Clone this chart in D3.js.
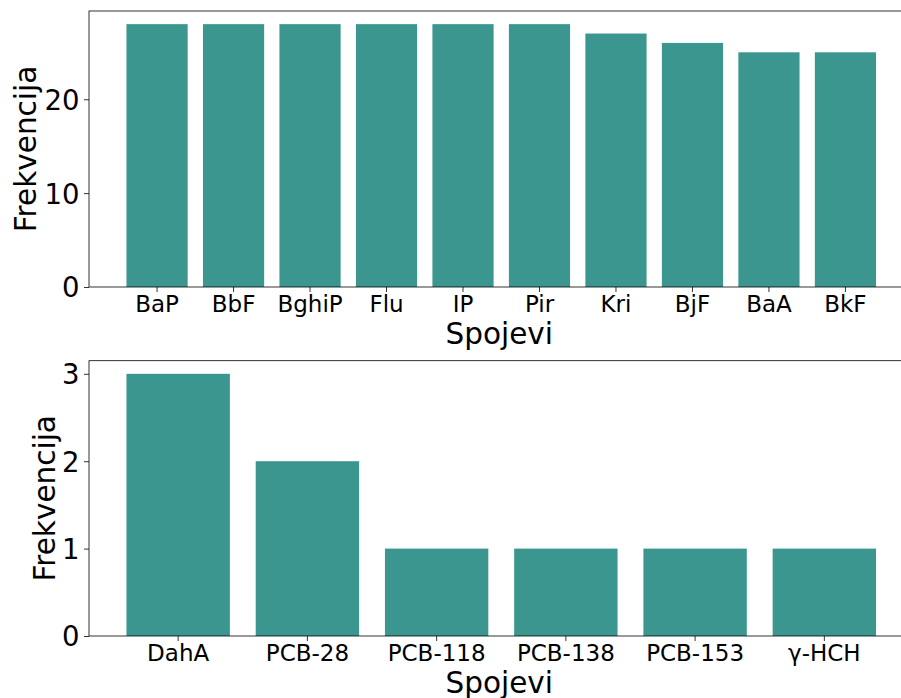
<!DOCTYPE html>
<html>
<head>
<meta charset="utf-8">
<script src="https://cdn.jsdelivr.net/npm/d3@7"></script>
<style>
  body { margin: 0; background: #fff; }
  svg { display: block; font-family: "DejaVu Sans", sans-serif; }
</style>
</head>
<body>
<svg id="plot" width="901" height="698"></svg>
<script>
// data
const topNames = ["BaP", "BbF", "BghiP", "Flu", "IP", "Pir", "Kri", "BjF", "BaA", "BkF"];
const topCounts = [28, 28, 28, 28, 28, 28, 27, 26, 25, 25];
const topTicks = [0, 10, 20];

const botNames = ["DahA", "PCB-28", "PCB-118", "PCB-138", "PCB-153", "γ-HCH"];
const botCounts = [3, 2, 1, 1, 1, 1];
const botTicks = [0, 1, 2, 3];

const barColor = "#3a968f";
const svg = d3.select("#plot");

// left/right of both axes boxes (right side runs past the window, like the original)
const axLeft = 89, axRight = 913.5;

function drawPanel(names, counts, ticks, top, bottom, yLabelX) {
  const n = names.length;
  const x = d3.scaleBand()
    .domain(names)
    .range([axLeft, axRight])
    .paddingInner(0.2)
    .paddingOuter(0.05 * (n - 0.2))
    .align(0.5);
  const yMax = d3.max(counts) * 1.05;
  const y = d3.scaleLinear().domain([0, yMax]).range([bottom, top]);

  const g = svg.append("g");

  g.selectAll("rect.bar")
    .data(names)
    .enter().append("rect")
    .attr("class", "bar")
    .attr("x", d => x(d))
    .attr("width", x.bandwidth())
    .attr("y", (d, i) => y(counts[i]))
    .attr("height", (d, i) => y(0) - y(counts[i]))
    .style("fill", barColor);

  // spines
  g.append("rect")
    .attr("x", axLeft).attr("y", top)
    .attr("width", axRight - axLeft).attr("height", bottom - top)
    .style("fill", "none").style("stroke", "#000").style("stroke-width", 0.8);

  // x axis
  const xAxis = d3.axisBottom(x).tickSize(5).tickSizeOuter(0);
  g.append("g")
    .attr("transform", "translate(0," + bottom + ")")
    .call(xAxis)
    .call(a => a.select(".domain").remove())
    .call(a => a.selectAll(".tick line").attr("stroke", "#000").attr("stroke-width", 0.8))
    .call(a => a.selectAll(".tick text")
      .attr("y", 24.5).attr("dy", 0)
      .style("font-family", "DejaVu Sans")
      .style("font-size", "23px").style("fill", "#000"));

  // y axis
  const yAxis = d3.axisLeft(y).tickValues(ticks).tickFormat(d3.format("d")).tickSize(5).tickSizeOuter(0);
  g.append("g")
    .attr("transform", "translate(" + axLeft + ",0)")
    .call(yAxis)
    .call(a => a.select(".domain").remove())
    .call(a => a.selectAll(".tick line").attr("stroke", "#000").attr("stroke-width", 0.8))
    .call(a => a.selectAll(".tick text")
      .attr("x", -9.5).attr("dy", "0.36em")
      .style("font-family", "DejaVu Sans")
      .style("font-size", "27.5px").style("fill", "#000"));

  // labels
  g.append("text")
    .attr("x", (axLeft + axRight) / 2 - 2)
    .attr("y", bottom + 57)
    .style("text-anchor", "middle")
    .style("font-size", "29.5px")
    .text("Spojevi");

  g.append("text")
    .attr("transform", "translate(" + yLabelX + "," + ((top + bottom) / 2) + ") rotate(-90)")
    .style("text-anchor", "middle")
    .style("font-size", "29.5px")
    .text("Frekvencija");
}

drawPanel(topNames, topCounts, topTicks, 11, 287, 35.5);
drawPanel(botNames, botCounts, botTicks, 360.7, 636, 54.5);
</script>
</body>
</html>
